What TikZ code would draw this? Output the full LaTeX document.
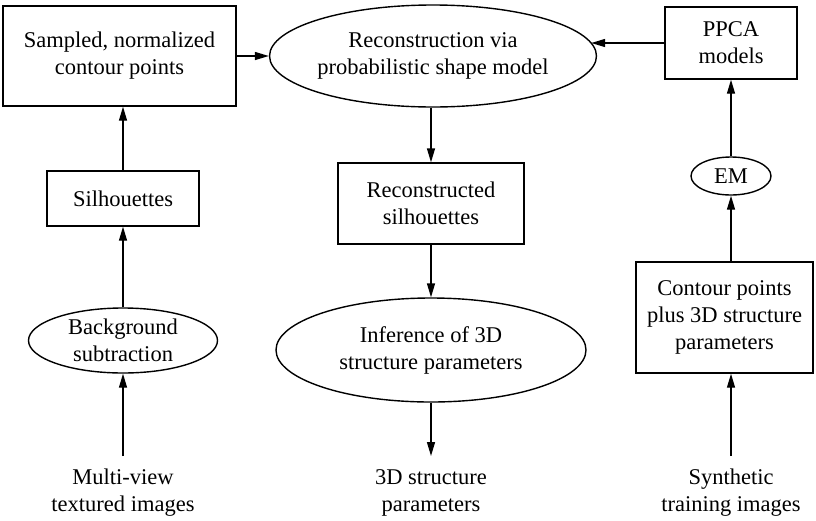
\documentclass[tikz,border=0pt]{standalone}
\usepackage{fontspec}
\setmainfont{Liberation Serif}
\usetikzlibrary{shapes.geometric,arrows.meta}
\begin{document}
\begin{tikzpicture}[x=1pt,y=-1pt,
  every node/.style={font=\fontsize{22.5}{27}\selectfont, align=center, inner sep=0pt},
  box/.style={draw, line width=1.4pt, rectangle},
  oval/.style={draw, line width=1.4pt, ellipse},
  arr/.style={line width=1.4pt, -{Triangle[length=14pt,width=8pt]}}
]
\useasboundingbox (0,0) rectangle (816,520);
% left column
\node[box, minimum width=233pt, minimum height=100pt] (A) at (119.5,56) {Sampled, normalized\\contour points};
\node[box, minimum width=152pt, minimum height=55pt] (S) at (123,198.5) {Silhouettes};
\node[oval, minimum width=189pt, minimum height=65pt] (B) at (123,340.5) {Background\\subtraction};
\node (mv) at (123,493) {Multi-view\\textured images};
\coordinate (mvEnd) at (123,456);
% middle column
\node[oval, minimum width=304pt, minimum height=102pt] (M) at (433,56) {Reconstruction via\\probabilistic shape model};
\node[box, minimum width=186pt, minimum height=81pt] (R) at (431,203.5) {Reconstructed\\silhouettes};
\node[oval, minimum width=310pt, minimum height=104pt] (I) at (431,350) {Inference of 3D\\structure parameters};
\node (sp) at (431,493) {3D structure\\parameters};
\coordinate (spEnd) at (431,456);
% right column
\node[box, minimum width=132pt, minimum height=72pt] (P) at (731,43) {PPCA\\models};
\node[oval, minimum width=80pt, minimum height=38pt] (EM) at (731,176) {EM};
\node[box, minimum width=177pt, minimum height=111pt] (C) at (724.5,317.5) {Contour points\\plus 3D structure\\parameters};
\node (st) at (731,493) {Synthetic\\training images};
\coordinate (stEnd) at (731,456);
% connectors
\draw[arr] (A.east) -- (M.west);
\draw[arr] (P.west) -- (M.5 |- P.west);
\draw[arr] (EM.north) -- (EM.north |- P.south);
\draw[arr] (C.north -| EM) -- (EM.south);
\draw[arr] (stEnd) -- (stEnd |- C.south);
\draw[arr] (S.north) -- (S.north |- A.south);
\draw[arr] (B.north) -- (B.north |- S.south);
\draw[arr] (mvEnd) -- (mvEnd |- B.south);
\draw[arr] (R.north |- M.south) -- (R.north);
\draw[arr] (R.south) -- (R.south |- I.north);
\draw[arr] (I.south) -- (spEnd);
\end{tikzpicture}
\end{document}
